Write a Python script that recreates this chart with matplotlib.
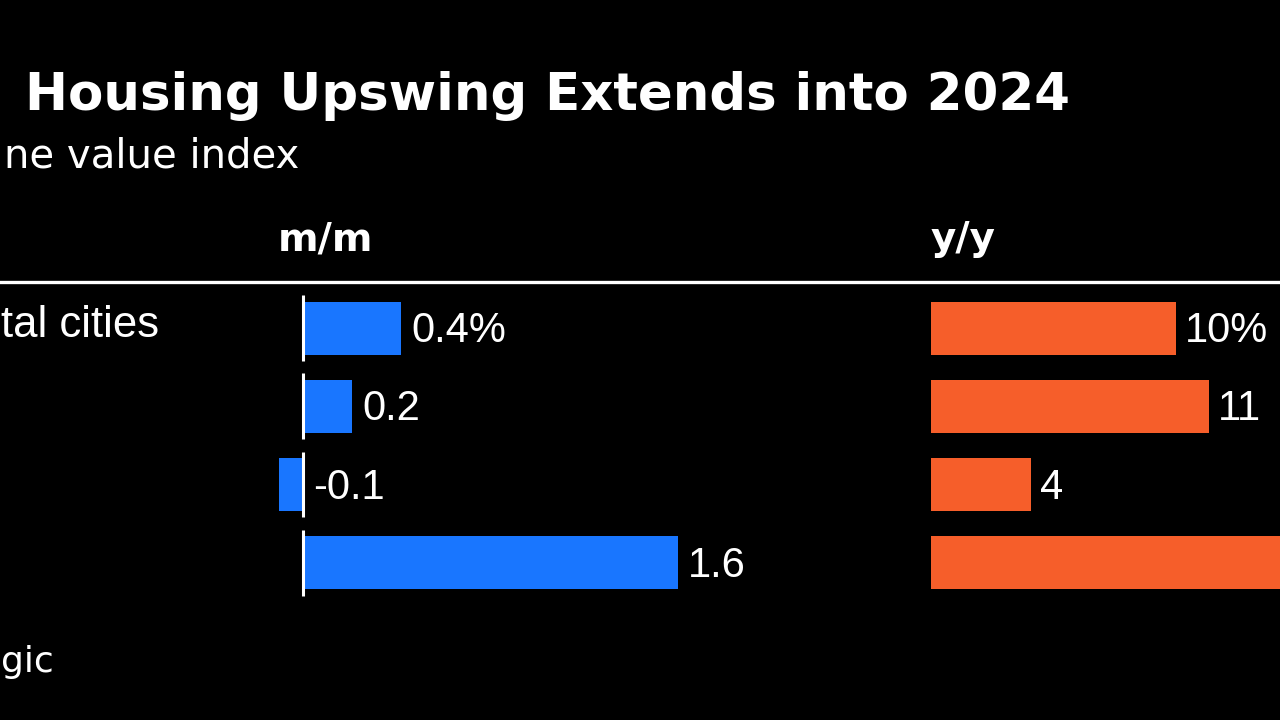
import matplotlib
matplotlib.use("Agg")
import matplotlib.pyplot as plt
from matplotlib.lines import Line2D
from matplotlib.transforms import blended_transform_factory

# ---- data (text as visible in the cropped reference) ----
row_labels = ["tal cities", "", "", ""]
mm_values = [0.4, 0.2, -0.1, 1.53]
yy_values = [9.8, 11.1, 4.0, 16]
mm_labels = ["0.4%", "0.2", "-0.1", "1.6"]
yy_labels = ["10%", "11", "4", "16"]
title = "Housing Upswing Extends into 2024"
subtitle = "ne value index"
source = "gic"
headers = ["m/m", "y/y"]

W, H = 1280, 720
BG = "#000000"
BLUE = "#1976FF"
ORANGE = "#F65E2A"
WHITE = "#FFFFFF"

fig = plt.figure(figsize=(W / 100, H / 100), dpi=100, facecolor=BG)

def px(x):
    return x / W

def py(y):
    return 1 - y / H

# vertical layout (pixels)
ax_top, ax_bot = 290, 600
row0, row_step = 328, 78.3
y_top = (ax_top - row0) / row_step
y_bot = (ax_bot - row0) / row_step
n = len(mm_values)
rows = list(range(n))

# m/m axes: zero at x=303, 245 px per unit
ax1_l, ax1_r = 0, 900
z1, s1 = 303, 245
ax1 = fig.add_axes([px(ax1_l), py(ax_bot), px(ax1_r - ax1_l), (ax_bot - ax_top) / H])
ax1.set_xlim((ax1_l - z1) / s1, (ax1_r - z1) / s1)

# y/y axes: zero at x=931, 25 px per unit
ax2_l, ax2_r = 900, 1280
z2, s2 = 931, 25
ax2 = fig.add_axes([px(ax2_l), py(ax_bot), px(ax2_r - ax2_l), (ax_bot - ax_top) / H])
ax2.set_xlim((ax2_l - z2) / s2, (ax2_r - z2) / s2)

for ax in (ax1, ax2):
    ax.set_ylim(y_bot, y_top)
    ax.set_facecolor("none")
    ax.axis("off")

bh = 53 / row_step
ax1.barh(rows, mm_values, height=bh, color=BLUE, zorder=2)
ax2.barh(rows, yy_values, height=bh, color=ORANGE, zorder=2)

# zero line segments per row for m/m
ax1.vlines([0] * n, [r - 0.42 for r in rows], [r + 0.42 for r in rows],
           color=WHITE, lw=2.2, zorder=3)

lab_kw = dict(color=WHITE, fontsize=30, family=["Liberation Sans", "DejaVu Sans"],
              va="baseline", ha="left", textcoords="offset points")
for r, v, t in zip(rows, mm_values, mm_labels):
    ax1.annotate(t, xy=(max(v, 0), r + 0.18), xytext=(7.2, 0), **lab_kw)
for r, v, t in zip(rows, yy_values, yy_labels):
    ax2.annotate(t, xy=(max(v, 0), r + 0.18), xytext=(6.5, 0), **lab_kw)

# row labels
label_font = dict(color=WHITE, fontsize=31.5, family=["Liberation Sans", "DejaVu Sans"])
tr = blended_transform_factory(fig.transFigure, ax1.transData)
for r, c in zip(rows, row_labels):
    if c:
        ax1.text(px(1), r + 0.115, c, transform=tr, va="baseline", ha="left",
                 clip_on=False, **label_font)

# titles
fig.text(px(1070), py(110), title, ha="right", va="baseline", color=WHITE,
         fontsize=37, fontweight="bold", family="DejaVu Sans")
fig.text(px(299), py(168), subtitle, ha="right", va="baseline", color=WHITE,
         fontsize=29, family="DejaVu Sans")
fig.text(px(278), py(250), headers[0], ha="left", va="baseline", color=WHITE,
         fontsize=28, fontweight="bold", family="DejaVu Sans")
fig.text(px(931), py(250), headers[1], ha="left", va="baseline", color=WHITE,
         fontsize=28, fontweight="bold", family="DejaVu Sans")
fig.text(px(1), py(672), source, ha="left", va="baseline", color=WHITE,
         fontsize=26, family="DejaVu Sans")

# header rule
fig.add_artist(Line2D([0, 1], [py(282), py(282)], transform=fig.transFigure,
                      color=WHITE, lw=2.4))

fig.savefig("out.png", dpi=100, facecolor=BG)
